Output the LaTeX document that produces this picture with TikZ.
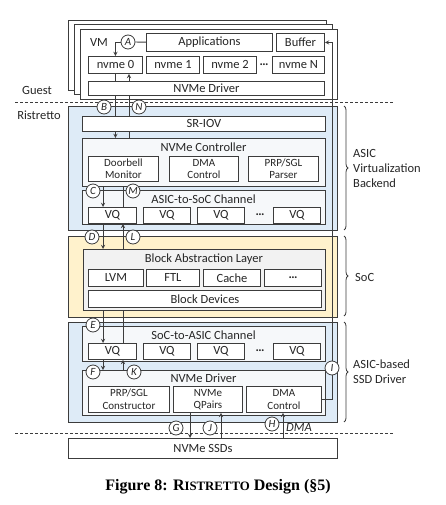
\documentclass[tikz,border=0pt]{standalone}
\usepackage{fontspec}
\setmainfont{Carlito}
\newfontfamily\capfont{Liberation Serif}
\usetikzlibrary{shapes,arrows,positioning,calc,decorations.pathreplacing}
\definecolor{asicblue}{RGB}{222,235,247}
\definecolor{socyellow}{RGB}{255,242,204}
\definecolor{balgray}{RGB}{242,242,242}
\definecolor{innergray}{RGB}{246,248,250}
\definecolor{edgegray}{RGB}{60,60,60}
\pgfdeclarelayer{blocks}
\pgfdeclarelayer{inner}
\pgfdeclarelayer{wires}
\pgfsetlayers{blocks,inner,wires,main}

\begin{document}
\begin{tikzpicture}[x=1pt,y=-1pt,>=stealth,
  every node/.style={text=black!85},
  box/.style={rectangle,draw=edgegray,line width=0.9pt,fill=white,inner sep=0pt,anchor=north west,font=\fontsize{12.5}{14}\selectfont},
  subbox/.style={box,align=center,font=\fontsize{11}{12.5}\selectfont},
  frame/.style={box,line width=1pt},
  title/.style={font=\fontsize{12.5}{14}\selectfont,inner sep=0pt},
  side/.style={font=\fontsize{12.5}{15}\selectfont,align=left,anchor=west,inner sep=0pt},
  tag/.style={circle,draw=edgegray,line width=0.8pt,fill=white,inner sep=0pt,minimum size=14pt,font=\fontsize{11}{12}\selectfont\itshape},
  wire/.style={draw=edgegray,line width=0.9pt},
  bracket/.style={draw=edgegray,line width=0.8pt,decorate,decoration={brace,amplitude=4pt}},
  sepline/.style={draw=edgegray,line width=0.7pt,dash pattern=on 3pt off 2pt}]

  \useasboundingbox (0,0) rectangle (445,505);

  \coordinate (up1) at (129,0);
  \coordinate (dn2) at (103,0);
  \coordinate (up2) at (123,0);
  \coordinate (gx) at (190,0);
  \coordinate (jx) at (221,0);
  \coordinate (hx) at (283,0);
  \coordinate (ix) at (332,0);

  \begin{pgfonlayer}{blocks}
  \node[frame,minimum width=258pt,minimum height=70pt] (vm3) at (68,20) {};
  \node[frame,minimum width=258pt,minimum height=70pt] (vm2) at (74,24) {};
  \node[frame,minimum width=257pt,minimum height=70pt] (vm1) at (80,29) {};
  \node[frame,fill=asicblue,minimum width=269pt,minimum height=124pt] (virt) at (68,106) {};
  \node[frame,fill=socyellow,minimum width=269pt,minimum height=81pt] (soc) at (68,236) {};
  \node[frame,fill=asicblue,minimum width=269pt,minimum height=100pt] (ssddrv) at (68,322) {};
  \end{pgfonlayer}

  \begin{pgfonlayer}{inner}
  \node[box,fill=innergray,minimum width=243pt,minimum height=48pt] (ctrl) at (82,138) {};
  \node[box,fill=innergray,minimum width=243pt,minimum height=34pt] (chan1) at (82,190) {};
  \node[box,fill=innergray,minimum width=243pt,minimum height=35pt] (chan2) at (82,326) {};
  \node[box,fill=innergray,minimum width=243pt,minimum height=45pt] (drv2) at (82,370) {};
  \end{pgfonlayer}

  \node[title] (vm) at (99,42) {VM};
  \node[title] (guest) at (37,90) {Guest};
  \node[title] (ristretto) at (39,115) {Ristretto};

  \node[box,minimum width=126pt,minimum height=18pt] (apps) at (146,33) {Applications};
  \node[box,minimum width=48pt,minimum height=18pt] (buffer) at (276,33) {Buffer};
  \node[box,minimum width=54pt,minimum height=17pt] (nvme0) at (88,56) {nvme 0};
  \node[box,minimum width=53pt,minimum height=17pt] (nvme1) at (146,56) {nvme 1};
  \node[box,minimum width=53pt,minimum height=17pt] (nvme2) at (203,56) {nvme 2};
  \node[title] (vmdots) at (264,65) {\bfseries …};
  \node[box,minimum width=52pt,minimum height=17pt] (nvmeN) at (272,56) {nvme N};
  \node[box,minimum width=236pt,minimum height=14pt] (gdrv) at (88,81) {NVMe Driver};

  \node[box,minimum width=243pt,minimum height=15pt] (sriov) at (82,116) {SR-IOV};
  \node[title] (ctrltitle) at (203.5,147) {NVMe Controller};
  \node[subbox,minimum width=70pt,minimum height=25pt] (doorbell) at (88,156) {Doorbell\\Monitor};
  \node[subbox,minimum width=69pt,minimum height=25pt] (dmactl) at (169,156) {DMA\\Control};
  \node[subbox,minimum width=70pt,minimum height=25pt] (parser) at (248,156) {PRP/SGL\\Parser};
  \node[title] (chan1title) at (203.5,199) {ASIC-to-SoC Channel};
  \node[box,minimum width=48pt,minimum height=16pt] (vqa1) at (88,207) {VQ};
  \node[box,minimum width=47pt,minimum height=16pt] (vqa2) at (143,207) {VQ};
  \node[box,minimum width=47pt,minimum height=16pt] (vqa3) at (197,207) {VQ};
  \node[title] (vqadots) at (260,215) {\bfseries …};
  \node[box,minimum width=47pt,minimum height=16pt] (vqa4) at (273,207) {VQ};

  \node[box,fill=balgray,minimum width=242pt,minimum height=61pt] (bal) at (83,249) {};
  \node[title] (baltitle) at (204,259) {Block Abstraction Layer};
  \node[box,minimum width=55pt,minimum height=17pt] (lvm) at (88,269) {LVM};
  \node[box,minimum width=53pt,minimum height=17pt] (ftl) at (146,269) {FTL};
  \node[box,minimum width=57pt,minimum height=17pt] (cache) at (203,269) {Cache};
  \node[box,minimum width=57pt,minimum height=17pt] (more) at (264,269) {\bfseries …};
  \node[box,minimum width=233pt,minimum height=17pt] (blkdev) at (88,290) {Block Devices};

  \node[title] (chan2title) at (203.5,335) {SoC-to-ASIC Channel};
  \node[box,minimum width=48pt,minimum height=16pt] (vqb1) at (88,343) {VQ};
  \node[box,minimum width=47pt,minimum height=16pt] (vqb2) at (143,343) {VQ};
  \node[box,minimum width=47pt,minimum height=16pt] (vqb3) at (197,343) {VQ};
  \node[title] (vqbdots) at (260,351) {\bfseries …};
  \node[box,minimum width=47pt,minimum height=16pt] (vqb4) at (273,343) {VQ};
  \node[title] (drv2title) at (203.5,378) {NVMe Driver};
  \node[subbox,minimum width=81pt,minimum height=26pt] (prpc) at (88,386) {PRP/SGL\\Constructor};
  \node[subbox,minimum width=69pt,minimum height=26pt] (qpairs) at (173,386) {NVMe\\QPairs};
  \node[subbox,minimum width=75pt,minimum height=26pt] (dmac) at (246,386) {DMA\\Control};

  \node[box,minimum width=269pt,minimum height=20pt] (ssd) at (68,438) {NVMe SSDs};

  \node[tag] (tagA) at (128,42) {A};
  \node[tag] (tagB) at (104,107) {B};
  \node[tag] (tagN) at (139,107) {N};
  \node[tag] (tagC) at (93,191) {C};
  \node[tag] (tagM) at (133,191) {M};
  \node[tag] (tagD) at (92,237) {D};
  \node[tag] (tagL) at (133,237) {L};
  \node[tag] (tagE) at (93,325) {E};
  \node[tag] (tagF) at (93,372) {F};
  \node[tag] (tagK) at (134,372) {K};
  \node[tag] (tagI) at (332,368) {I};
  \node[tag] (tagG) at (176,428) {G};
  \node[tag] (tagJ) at (210,428) {J};
  \node[tag] (tagH) at (272,424) {H};
  \node[title,font=\fontsize{12.5}{14}\selectfont\itshape] (dma) at (299,427) {DMA};

  \draw[bracket] (344,106) -- (344,230);
  \draw[bracket] (344,236) -- (344,316);
  \draw[bracket] (344,322) -- (344,422);
  \node[side] (virtlabel) at (353,168) {ASIC\\Virtualization\\Backend};
  \node[side] (soclabel) at (355,277) {SoC};
  \node[side] (drvlabel) at (353,372) {ASIC-based\\SSD Driver};

  \node[font=\capfont\fontsize{16}{18}\selectfont\bfseries,text=black] (caption) at (218,487)
    {Figure 8: R{\fontsize{12.8}{14}\selectfont ISTRETTO} Design (§5)};

  \begin{pgfonlayer}{wires}
  \draw[sepline] (15,102) -- (393,102);
  \draw[sepline] (15,433) -- (393,433);
  \draw[wire] (tagA) -- (apps);
  \draw[wire,->] (tagA) -| (nvme0);
  \draw[wire,->] (nvme0.south) -- (ctrl.north -| nvme0.south);
  \draw[wire,->] (ctrl.north -| up1) -- (nvme0.south -| up1);
  \draw[wire,->] (ctrl.south -| dn2) -- (vqa1.north -| dn2);
  \draw[wire] (vqa1.north -| up2) -- (ctrl.south -| up2);
  \draw[wire,->] (vqa1.south -| dn2) -- (bal.north -| dn2);
  \draw[wire,->] (vqb1.north -| up2) -- (vqa1.south -| up2);
  \draw[wire,->] (bal.south -| dn2) -- (vqb1.north -| dn2);
  \draw[wire,->] (vqb1.south -| dn2) -- (drv2.north -| dn2);
  \draw[wire,->] (drv2.north -| up2) -- (vqb1.south -| up2);
  \draw[wire,->] (qpairs.south -| gx) -- (ssd.north -| gx);
  \draw[wire,->] (ssd.north -| jx) -- (qpairs.south -| jx);
  \draw[wire,->] (ssd.north -| hx) -- (dmac.south -| hx);
  \draw[wire,->] (dmac.east) -| (buffer.east -| ix) -- (buffer.east);
  \end{pgfonlayer}

\end{tikzpicture}
\end{document}
